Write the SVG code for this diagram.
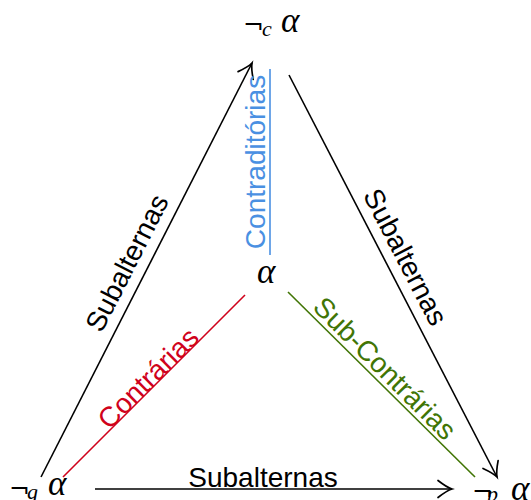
<svg xmlns="http://www.w3.org/2000/svg" width="531" height="500" viewBox="0 0 531 500">
<style>
.lbl{font-family:"Liberation Sans",Arial,sans-serif;font-size:28px;text-anchor:middle}
.m{font-family:"Liberation Serif","DejaVu Serif",serif;font-style:italic;font-size:35px}
.neg{font-family:"DejaVu Serif",serif;font-size:25px}
.sub{font-family:"Liberation Serif","DejaVu Serif",serif;font-style:italic;font-size:22px}
.ed{stroke:#000;stroke-width:1.6;fill:none}
</style>
<defs>
<marker id="ah" markerUnits="userSpaceOnUse" markerWidth="24" markerHeight="24" refX="0" refY="0" viewBox="-14 -12 16 24" orient="auto" overflow="visible">
<path d="M-14,-8.5 Q-5,-1.5 0,0 Q-5,1.5 -14,8.5" fill="none" stroke="#000" stroke-width="1.7" stroke-linecap="round"/>
</marker>
</defs>
<g id="connectors">
<line class="ed" x1="41" y1="477" x2="252" y2="63" marker-end="url(#ah)"/>
<line class="ed" x1="289" y1="75" x2="497" y2="477" marker-end="url(#ah)"/>
<line class="ed" x1="95" y1="489" x2="452" y2="489" marker-end="url(#ah)"/>
<line x1="270" y1="69" x2="270" y2="255" stroke="#4a90e2" stroke-width="1.6"/>
<line x1="63" y1="477" x2="245" y2="295" stroke="#d0021b" stroke-width="1.6"/>
<line x1="288" y1="292" x2="475" y2="477" stroke="#417505" stroke-width="1.6"/>
<text class="lbl" transform="translate(135.5,267.3) rotate(-63)">Subalternas</text>
<text class="lbl" transform="translate(397,261.4) rotate(62.6)">Subalternas</text>
<text class="lbl" x="263" y="487">Subalternas</text>
<text class="lbl" fill="#4a90e2" transform="translate(265,162) rotate(-90)">Contraditórias</text>
<text class="lbl" fill="#d0021b" transform="translate(155,385) rotate(-45)">Contrárias</text>
<text class="lbl" fill="#417505" transform="translate(378,375) rotate(45)">Sub-Contrárias</text>
</g>
<g id="node-top">
<text class="neg" x="243" y="33">¬</text>
<text class="sub" x="262" y="36">c</text>
<text class="m" x="281" y="32">α</text>
</g>
<g id="node-center">
<text class="m" x="257" y="283">α</text>
</g>
<g id="node-bl">
<text class="neg" x="9" y="497">¬</text>
<text class="sub" x="27" y="499">g</text>
<text class="m" x="48" y="495">α</text>
</g>
<g id="node-br">
<text class="neg" x="472" y="500">¬</text>
<text class="sub" x="487" y="501">p</text>
<text class="m" x="511" y="500">α</text>
</g>
</svg>
